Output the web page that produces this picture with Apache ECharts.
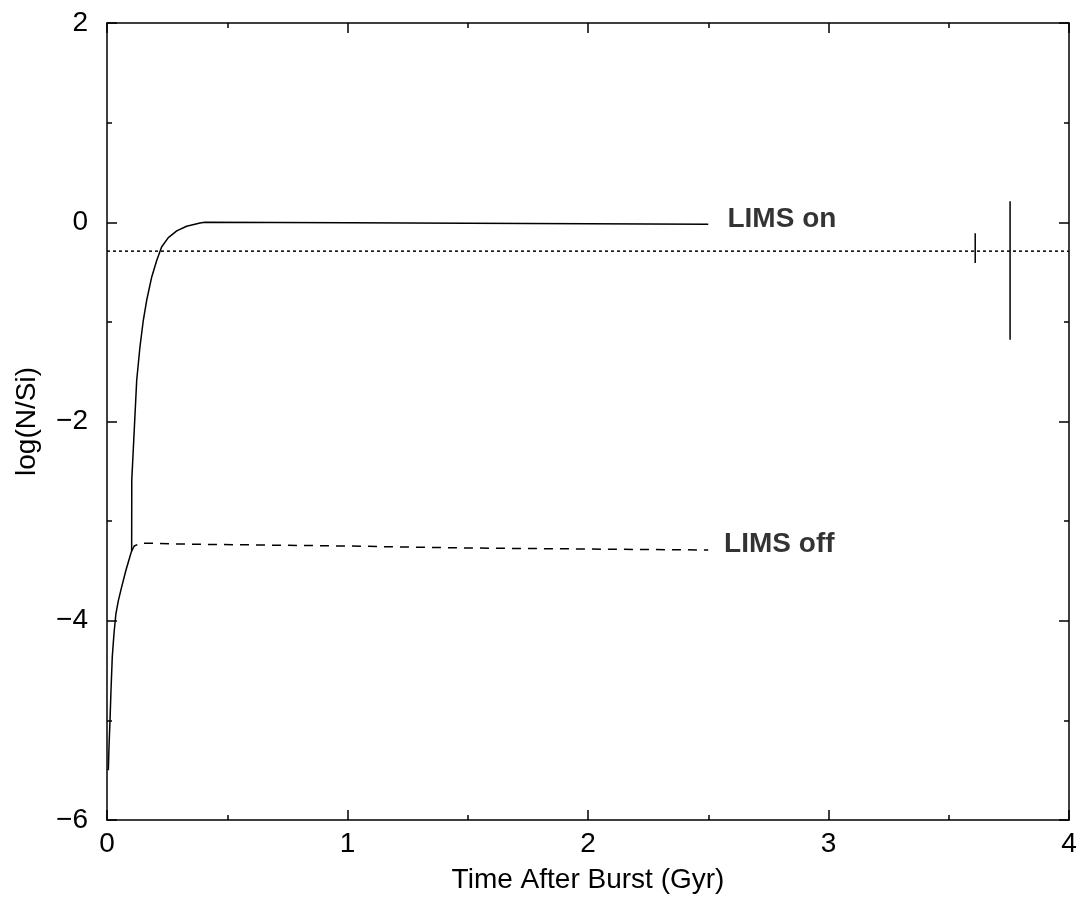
<!DOCTYPE html>
<html>
<head>
<meta charset="utf-8">
<script src="https://cdn.jsdelivr.net/npm/echarts@6/dist/echarts.min.js"></script>
<style>
  html, body { margin: 0; padding: 0; background: #fff; }
  #chart { width: 1081px; height: 897px; }
</style>
</head>
<body>
<div id="chart"></div>
<script>
// LIMS on (solid) curve
const timeOn = [0.0055, 0.0083, 0.0125, 0.0166, 0.022, 0.029, 0.037, 0.047, 0.061, 0.079, 0.0985, 0.1025, 0.103,
  0.1235, 0.137, 0.151, 0.165, 0.186, 0.207, 0.227, 0.255, 0.29, 0.331, 0.387, 0.407, 1.0, 1.5, 2.0, 2.5];
const nsiOn = [-5.50, -5.27, -5.00, -4.70, -4.36, -4.13, -3.93, -3.80, -3.66, -3.49, -3.33, -3.30, -2.59,
  -1.586, -1.252, -0.984, -0.783, -0.549, -0.382, -0.248, -0.154, -0.087, -0.040, -0.007, 0.0, -0.005, -0.01, -0.015, -0.02];
// LIMS off (dashed) curve, branches off at ~0.1 Gyr
const timeOff = [0.103, 0.113, 0.14, 0.3, 1.0, 1.5, 2.0, 2.5];
const nsiOff = [-3.30, -3.25, -3.22, -3.23, -3.25, -3.27, -3.28, -3.29];
// observed level (dotted) and its error bars
const obsLevel = -0.29;
const errX = [3.61, 3.755];
const errLow = [-0.41, -1.18];
const errHigh = [-0.11, 0.21];
// curve labels
const labelText = ['LIMS on', 'LIMS off'];
const labelX = [2.58, 2.566];
const labelY = [0.03, -3.23];

const FONT = 'Liberation Sans';
const BLACK = '#000';

const zip = (xs, ys) => xs.map((x, i) => [x, ys[i]]);
const minus = v => String(v).replace('-', '\u2212');

const axisCommon = {
  type: 'value',
  axisLine: { show: true, onZero: false, lineStyle: { color: BLACK, width: 1.5 } },
  axisTick: { show: true, inside: true, length: 10, lineStyle: { color: BLACK, width: 1.5 } },
  minorTick: { show: true, splitNumber: 2, length: 5, lineStyle: { color: BLACK, width: 1.5 } },
  splitLine: { show: false },
  minorSplitLine: { show: false }
};
const labelStyle = { color: BLACK, fontFamily: FONT, fontSize: 28 };

const series = [
  {
    type: 'line', data: zip(timeOn, nsiOn), showSymbol: false,
    lineStyle: { color: BLACK, width: 1.5 }
  },
  {
    type: 'line', data: zip(timeOff, nsiOff), showSymbol: false,
    lineStyle: { color: BLACK, width: 1.5, type: [9, 7] }
  },
  {
    type: 'line', data: [[0, obsLevel], [4, obsLevel]], showSymbol: false,
    lineStyle: { color: BLACK, width: 1.5, type: [3, 3] }
  },
  ...errX.map((x, i) => ({
    type: 'line', data: [[x, errLow[i]], [x, errHigh[i]]], showSymbol: false,
    lineStyle: { color: BLACK, width: 1.5 }
  })),
  {
    type: 'scatter', symbolSize: 0,
    data: labelText.map((t, i) => ({ value: [labelX[i], labelY[i]], name: t })),
    label: {
      show: true, position: 'right', distance: 0,
      formatter: p => p.name,
      color: BLACK, fontFamily: FONT, fontSize: 28, fontWeight: 'bold'
    }
  }
];

const chart = echarts.init(document.getElementById('chart'));
chart.setOption({
  animation: false,
  backgroundColor: '#fff',
  grid: { left: 107, right: 12, top: 23, bottom: 77, containLabel: false, outerBoundsMode: 'none' },
  xAxis: [
    Object.assign({}, axisCommon, {
      position: 'bottom', min: 0, max: 4, interval: 1,
      name: 'Time After Burst (Gyr)', nameLocation: 'middle', nameGap: 46,
      nameTextStyle: labelStyle,
      axisLabel: Object.assign({ margin: 10 }, labelStyle)
    }),
    Object.assign({}, axisCommon, {
      position: 'top', min: 0, max: 4, interval: 1,
      axisLabel: { show: false }
    })
  ],
  yAxis: [
    Object.assign({}, axisCommon, {
      position: 'left', min: -6, max: 2, interval: 2,
      name: 'log(N/Si)', nameLocation: 'middle', nameGap: 66,
      nameTextStyle: labelStyle,
      axisLabel: Object.assign({ margin: 19, formatter: minus }, labelStyle)
    }),
    Object.assign({}, axisCommon, {
      position: 'right', min: -6, max: 2, interval: 2,
      axisLabel: { show: false }
    })
  ],
  series: series
});
</script>
</body>
</html>
